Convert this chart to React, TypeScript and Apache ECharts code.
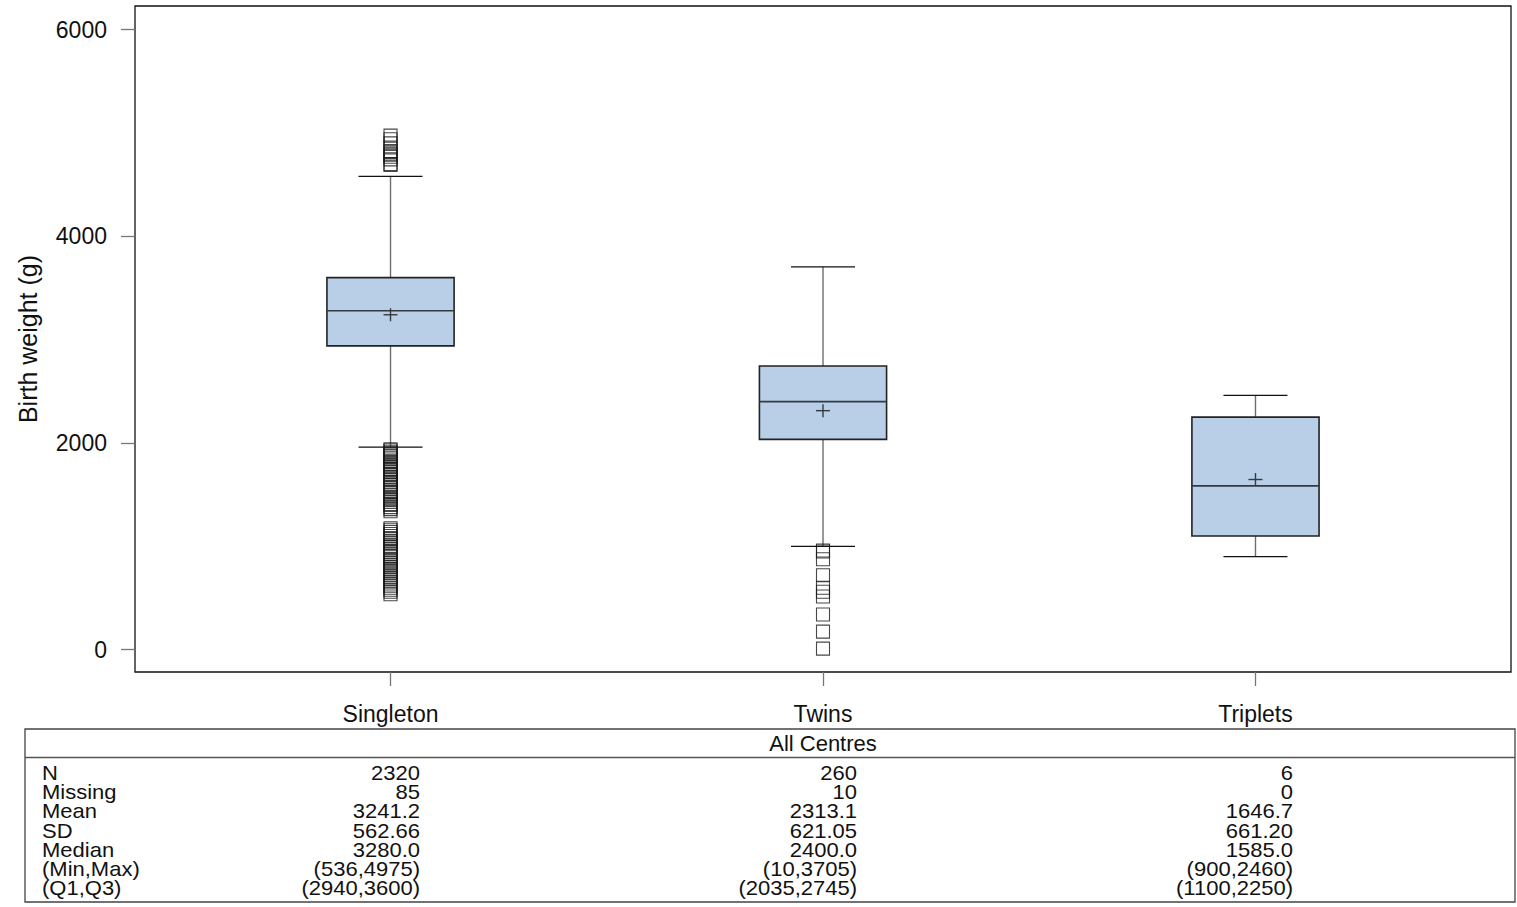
import React, { useEffect, useRef } from "react";
import * as echarts from "echarts";

// ---------- data ----------
const categories = ["Singleton", "Twins", "Triplets"];
const lowWhisker = [1960, 1000, 900];
const q1 = [2940, 2035, 1100];
const median = [3280, 2400, 1585];
const q3 = [3600, 2745, 2250];
const highWhisker = [4580, 3705, 2460];
const mean = [3241.2, 2313.1, 1646.7];

const singletonOutliers = [
  4975, 4940, 4900, 4860, 4825, 4800, 4790, 4770, 4745, 4700, 4690,
  1940, 1930, 1915, 1900, 1890, 1875, 1860, 1850, 1830, 1820, 1800, 1785, 1770, 1750,
  1740, 1720, 1700, 1690, 1670, 1650, 1640, 1620, 1600, 1590, 1570, 1550, 1530, 1520,
  1500, 1480, 1460, 1450, 1430, 1410, 1400, 1380, 1360, 1340,
  1175, 1160, 1140, 1120, 1100, 1080, 1070, 1050, 1030, 1000, 990, 970, 950, 930, 910,
  900, 880, 860, 840, 820, 800, 780, 760, 740, 720, 700, 680, 660, 640, 620, 600, 580,
  560, 536,
];
const twinsOutliers = [960, 950, 875, 720, 600, 560, 515, 340, 175, 10];
const tripletsOutliers: number[] = [];

const yTicks = [0, 2000, 4000, 6000];

const tableTitle = "All Centres";
const statLabels = ["N", "Missing", "Mean", "SD", "Median", "(Min,Max)", "(Q1,Q3)"];
const statSingleton = ["2320", "85", "3241.2", "562.66", "3280.0", "(536,4975)", "(2940,3600)"];
const statTwins = ["260", "10", "2313.1", "621.05", "2400.0", "(10,3705)", "(2035,2745)"];
const statTriplets = ["6", "0", "1646.7", "661.20", "1585.0", "(900,2460)", "(1100,2250)"];

// ---------- layout ----------
const FONT = "'Liberation Sans', Arial, sans-serif";
const BOX_W = 0.294;
const CAP_W = 0.148;
const BOX_FILL = "#b9cfe7";

export default function App() {
  const ref = useRef<HTMLDivElement>(null);

  useEffect(() => {
    document.body.style.margin = "0";
    const chart = echarts.init(ref.current!, null, { renderer: "svg" });

    const boxData = categories.map((_, i) => [
      i + 1,
      lowWhisker[i],
      q1[i],
      median[i],
      q3[i],
      highWhisker[i],
      mean[i],
    ]);
    const outlierData: number[][] = [];
    [singletonOutliers, twinsOutliers, tripletsOutliers].forEach((arr, i) =>
      arr.forEach((v) => outlierData.push([i + 1, v]))
    );

    const renderItem = (params: any, api: any) => {
      const x = api.value(0);
      const lo = api.coord([x, api.value(1)]);
      const b1 = api.coord([x, api.value(2)]);
      const md = api.coord([x, api.value(3)]);
      const b3 = api.coord([x, api.value(4)]);
      const hi = api.coord([x, api.value(5)]);
      const mn = api.coord([x, api.value(6)]);
      const cx = lo[0];
      const bh = api.size([BOX_W, 0])[0] / 2;
      const ch = api.size([CAP_W, 0])[0] / 2;
      const whisk = { stroke: "#6e6e6e", lineWidth: 1.4 };
      const cap = { stroke: "#111", lineWidth: 1.3 };
      return {
        type: "group",
        children: [
          { type: "line", shape: { x1: cx, y1: b3[1], x2: cx, y2: hi[1] }, style: whisk },
          { type: "line", shape: { x1: cx, y1: b1[1], x2: cx, y2: lo[1] }, style: whisk },
          { type: "line", shape: { x1: cx - ch, y1: hi[1], x2: cx + ch, y2: hi[1] }, style: cap },
          { type: "line", shape: { x1: cx - ch, y1: lo[1], x2: cx + ch, y2: lo[1] }, style: cap },
          {
            type: "rect",
            shape: { x: cx - bh, y: b3[1], width: bh * 2, height: b1[1] - b3[1] },
            style: { fill: BOX_FILL, stroke: "#222", lineWidth: 1.6 },
          },
          {
            type: "line",
            shape: { x1: cx - bh, y1: md[1], x2: cx + bh, y2: md[1] },
            style: { stroke: "#353a40", lineWidth: 1.6 },
          },
          {
            type: "line",
            shape: { x1: cx - 7, y1: mn[1], x2: cx + 7, y2: mn[1] },
            style: { stroke: "#353a40", lineWidth: 1.4 },
          },
          {
            type: "line",
            shape: { x1: cx, y1: mn[1] - 6.5, x2: cx, y2: mn[1] + 6.5 },
            style: { stroke: "#353a40", lineWidth: 1.4 },
          },
        ],
      };
    };

    chart.setOption({
      animation: false,
      grid: {
        left: 135,
        right: 6,
        top: 6,
        bottom: 235,
        show: true,
        borderColor: "#111",
        borderWidth: 1.3,
        backgroundColor: "transparent",
      },
      xAxis: {
        type: "value",
        min: 0.4092,
        max: 3.5908,
        axisLine: { show: false, onZero: false },
        splitLine: { show: false },
        axisTick: {
          show: true,
          length: 14,
          customValues: [1, 2, 3],
          lineStyle: { color: "#777", width: 1.3 },
        },
        axisLabel: {
          customValues: [1, 2, 3],
          formatter: (v: number) => categories[Math.round(v) - 1] ?? "",
          fontFamily: FONT,
          fontSize: 23,
          color: "#111",
          margin: 30,
        },
      },
      yAxis: {
        type: "value",
        min: -216,
        max: 6229,
        name: "Birth weight (g)",
        nameLocation: "middle",
        nameGap: 95,
        nameTextStyle: { fontFamily: FONT, fontSize: 25, color: "#111" },
        axisLine: { show: false, onZero: false },
        splitLine: { show: false },
        axisTick: {
          show: true,
          length: 14,
          customValues: yTicks,
          lineStyle: { color: "#777", width: 1.3 },
        },
        axisLabel: {
          customValues: yTicks,
          formatter: (v: number) => String(v),
          fontFamily: FONT,
          fontSize: 23,
          color: "#111",
          margin: 28,
        },
      },
      series: [
        {
          type: "custom",
          renderItem,
          data: boxData,
          encode: { x: 0, y: [1, 2, 3, 4, 5, 6] },
          z: 2,
        },
        {
          type: "scatter",
          data: outlierData,
          symbol: "rect",
          symbolSize: 13,
          itemStyle: {
            color: "rgba(255,255,255,0)",
            borderColor: "#1a1a1a",
            borderWidth: 1.1,
          },
          z: 3,
        },
      ],
    });

    // ---------- statistics table ----------
    const tLeft = 25;
    const tRight = 1515;
    const tTop = 729;
    const tHead = 757.5;
    const tBottom = 902;
    const plotCenter = (135 + 1511) / 2;
    const colRight = [420, 857, 1293];
    const rowY0 = 773;
    const rowStep = 19.13;
    const columns = [statSingleton, statTwins, statTriplets];

    const graphics: any[] = [
      {
        type: "rect",
        shape: { x: tLeft, y: tTop, width: tRight - tLeft, height: tBottom - tTop },
        style: { fill: "none", stroke: "#444", lineWidth: 1.3 },
      },
      {
        type: "line",
        shape: { x1: tLeft, y1: tHead, x2: tRight, y2: tHead },
        style: { stroke: "#555", lineWidth: 1.3 },
      },
      {
        type: "text",
        x: plotCenter,
        y: (tTop + tHead) / 2,
        style: {
          text: tableTitle,
          fontFamily: FONT,
          fontSize: 22,
          fill: "#111",
          align: "center",
          verticalAlign: "middle",
        },
      },
    ];
    statLabels.forEach((lab, r) => {
      graphics.push({
        type: "text",
        x: 42,
        y: rowY0 + r * rowStep,
        scaleX: 1.1,
        style: {
          text: lab,
          fontFamily: FONT,
          fontSize: 20,
          fill: "#111",
          align: "left",
          verticalAlign: "middle",
        },
      });
      columns.forEach((col, c) => {
        graphics.push({
          type: "text",
          x: colRight[c],
          y: rowY0 + r * rowStep,
          scaleX: 1.1,
          style: {
            text: col[r],
            fontFamily: FONT,
            fontSize: 20,
            fill: "#111",
            align: "right",
            verticalAlign: "middle",
          },
        });
      });
    });
    chart.setOption({ graphic: graphics });

    return () => chart.dispose();
  }, []);

  return <div ref={ref} style={{ width: 1517, height: 907 }} />;
}
